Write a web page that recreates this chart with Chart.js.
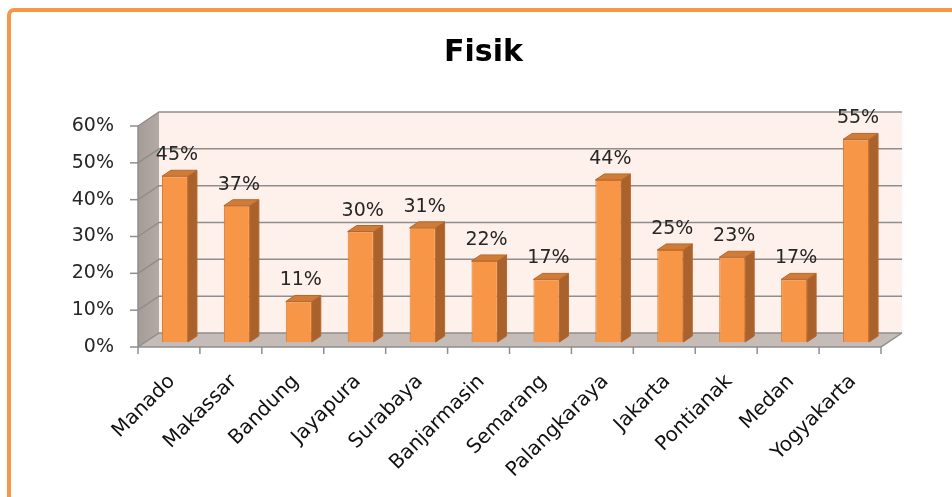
<!DOCTYPE html>
<html>
<head>
<meta charset="utf-8">
<script src="https://cdn.jsdelivr.net/npm/chart.js@4.4.1/dist/chart.umd.min.js"></script>
<style>
  html, body { margin: 0; padding: 0; background: #fff; overflow: hidden; }
  #frame {
    position: absolute; left: 7px; top: 8px; width: 1000px; height: 600px;
    border-top: 4px solid #F79646; border-left: 4px solid #F79646;
    border-top-left-radius: 7px;
  }
  #myChart { position: absolute; left: 0; top: 0; }
</style>
</head>
<body>
<div id="frame"></div>
<canvas id="myChart" width="952" height="497"></canvas>
<script>
const categories = ['Manado', 'Makassar', 'Bandung', 'Jayapura', 'Surabaya', 'Banjarmasin',
  'Semarang', 'Palangkaraya', 'Jakarta', 'Pontianak', 'Medan', 'Yogyakarta'];
const fisikValues = [45, 37, 11, 30, 31, 22, 17, 44, 25, 23, 17, 55];
const yTicks = [0, 10, 20, 30, 40, 50, 60];

// 3d look: depth of the walls and of the bars, and where the bars stand
const WALL = { dx: 21, dy: -14 };
const BAR_POS = { dx: 6, dy: -5 };
const BAR_DEPTH = { dx: 9, dy: -6 };

const walls3d = {
  id: 'walls3d',
  afterLayout(chart) {
    // title sits a bit right of the canvas centre
    if (chart.titleBlock) {
      chart.titleBlock.left += 86;
    }
  },
  beforeDraw(chart) {
    const { ctx, chartArea, scales } = chart;
    const L = chartArea.left, R = chartArea.right;
    const B = scales.y.getPixelForValue(0), T = scales.y.getPixelForValue(60);
    const dx = WALL.dx, dy = WALL.dy;
    ctx.save();
    // back wall
    ctx.fillStyle = '#FEF0EA';
    ctx.fillRect(L + dx, T + dy, R - L, B - T);
    // left wall
    const g = ctx.createLinearGradient(L, 0, L + dx, 0);
    g.addColorStop(0, '#A59C97');
    g.addColorStop(1, '#B3AAA5');
    ctx.fillStyle = g;
    ctx.beginPath();
    ctx.moveTo(L, B); ctx.lineTo(L, T); ctx.lineTo(L + dx, T + dy); ctx.lineTo(L + dx, B + dy);
    ctx.closePath(); ctx.fill();
    // floor
    ctx.fillStyle = '#C5BBB7';
    ctx.beginPath();
    ctx.moveTo(L, B); ctx.lineTo(R, B); ctx.lineTo(R + dx, B + dy); ctx.lineTo(L + dx, B + dy);
    ctx.closePath(); ctx.fill();

    ctx.strokeStyle = '#8E8E8E';
    ctx.lineWidth = 1.5;
    yTicks.forEach((v) => {
      const yy = scales.y.getPixelForValue(v);
      ctx.beginPath();
      ctx.moveTo(L, yy); ctx.lineTo(L + dx, yy + dy); ctx.lineTo(R + dx, yy + dy);
      ctx.stroke();
      ctx.beginPath();
      ctx.moveTo(L - 8, yy); ctx.lineTo(L, yy);
      ctx.stroke();
    });
    ctx.beginPath();
    ctx.moveTo(L, T); ctx.lineTo(L, B); ctx.lineTo(R, B); ctx.lineTo(R + dx, B + dy);
    ctx.stroke();
    const step = (R - L) / categories.length;
    for (let k = 0; k <= categories.length; k++) {
      ctx.beginPath();
      ctx.moveTo(L + k * step, B); ctx.lineTo(L + k * step, B + 7);
      ctx.stroke();
    }
    ctx.restore();
  },
  beforeDatasetsDraw(chart) {
    chart.ctx.save();
    chart.ctx.translate(BAR_POS.dx, BAR_POS.dy);
  },
  afterDatasetsDraw(chart) {
    const { ctx } = chart;
    const meta = chart.getDatasetMeta(0);
    const dx = BAR_DEPTH.dx, dy = BAR_DEPTH.dy;
    meta.data.forEach((bar, i) => {
      const left = bar.x - bar.width / 2, right = bar.x + bar.width / 2;
      const top = bar.y, base = bar.base;
      ctx.lineWidth = 1;
      ctx.strokeStyle = '#B8672C';
      ctx.fillStyle = '#A9622C';
      ctx.beginPath();
      ctx.moveTo(right, top); ctx.lineTo(right + dx, top + dy);
      ctx.lineTo(right + dx, base + dy); ctx.lineTo(right, base);
      ctx.closePath(); ctx.fill(); ctx.stroke();
      ctx.fillStyle = '#CF7C38';
      ctx.beginPath();
      ctx.moveTo(left, top); ctx.lineTo(left + dx, top + dy);
      ctx.lineTo(right + dx, top + dy); ctx.lineTo(right, top);
      ctx.closePath(); ctx.fill(); ctx.stroke();

      ctx.fillStyle = '#262626';
      ctx.font = '19px "DejaVu Sans"';
      ctx.textAlign = 'center';
      ctx.textBaseline = 'alphabetic';
      ctx.fillText(fisikValues[i] + '%', bar.x + 2, top - 16);
    });
    ctx.restore();
  }
};

new Chart(document.getElementById('myChart'), {
  type: 'bar',
  plugins: [walls3d],
  options: {
    responsive: false,
    devicePixelRatio: 1,
    animation: false,
    layout: { padding: { left: 0, right: 71, top: 0, bottom: 0 } },
    plugins: {
      legend: { display: false },
      tooltip: { enabled: false },
      title: {
        display: true,
        text: 'Fisik',
        color: '#000',
        font: { family: 'DejaVu Sans', size: 30, weight: 'bold' },
        padding: { top: 35, bottom: 55 },
      },
    },
    scales: {
      x: {
        grid: { display: false, drawTicks: false },
        border: { display: false },
        ticks: {
          color: '#111',
          font: { family: 'DejaVu Sans', size: 20 },
          minRotation: 45,
          maxRotation: 45,
          padding: 23,
          labelOffset: 3,
          autoSkip: false,
        },
        afterFit(scale) { scale.height = 150; },
      },
      y: {
        min: 0,
        max: 60,
        grid: { display: false, drawTicks: false },
        border: { display: false },
        ticks: {
          stepSize: 10,
          color: '#262626',
          font: { family: 'DejaVu Sans', size: 19 },
          padding: 24,
          callback: (v) => v + '%',
        },
        afterFit(scale) { scale.width = 138; },
      },
    },
  },
  data: {
    labels: categories,
    datasets: [
      {
        label: 'Fisik',
        data: fisikValues,
        backgroundColor: '#F79646',
        borderColor: '#D9782F',
        borderWidth: 1,
        barPercentage: 0.42,
        categoryPercentage: 1,
        clip: false,
      },
    ],
  },
});
</script>
</body>
</html>
